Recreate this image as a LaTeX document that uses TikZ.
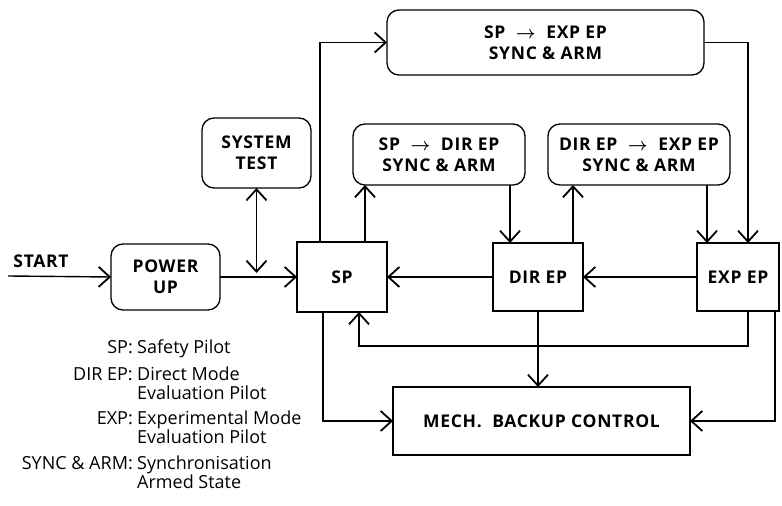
\documentclass[tikz,border=0pt]{standalone}
\usepackage{fontspec}
\setmainfont{Open Sans}
\newfontfamily\boxfont[LetterSpace=4]{Open Sans}
\usepackage{tikz}
\usetikzlibrary{arrows.meta, positioning, calc}

\newcommand{\tofrom}{\ \ {\boldmath$\rightarrow$}\ \ }

\begin{document}
\begin{tikzpicture}[
    x=1pt, y=1pt,
    block/.style={rectangle, draw, line width=2.4pt, inner sep=0pt, outer sep=0pt, align=center, font=\boxfont\fontsize{17.5}{23}\selectfont\bfseries},
    state/.style={rectangle, draw, line width=1.3pt, rounded corners=12pt, inner sep=0pt, outer sep=0pt, align=center, font=\boxfont\fontsize{17.5}{21}\selectfont\bfseries},
    term/.style={anchor=base east, inner sep=0pt, font=\fontsize{18}{19}\selectfont},
    descr/.style={anchor=base west, inner sep=0pt, align=left, font=\fontsize{18}{19}\selectfont},
    line/.style={draw, line width=1.4pt, -{Straight Barb[length=11pt, width=20pt, line width=1.8pt]}},
    both/.style={draw, line width=1.4pt, {Straight Barb[length=11pt, width=20pt, line width=1.8pt]}-{Straight Barb[length=11pt, width=20pt, line width=1.8pt]}}
]
\useasboundingbox (0,0) rectangle (782,506);

% Nodes
\coordinate (in) at (8,230);
\node [inner sep=0pt, font=\boxfont\fontsize{17.5}{19}\selectfont\bfseries] (start) at (41,245) {START};
\node [state, minimum width=109, minimum height=66] (powerup) at (165.5,229) {POWER\\UP};
\node [state, minimum width=109, minimum height=70] (systest) at (256.5,353) {SYSTEM\\TEST};

\node [block, minimum width=90, minimum height=70] (sp) at (342,229) {SP};
\node [block, minimum width=90, minimum height=68] (direp) at (538,229) {DIR EP};
\node [block, minimum width=82, minimum height=68] (expep) at (738,229) {EXP EP};
\node [block, minimum width=297, minimum height=68] (mech) at (541.5,85) {MECH.\ \ BACKUP CONTROL};

\node [state, minimum width=317, minimum height=65] (topsync) at (545.5,463.5) {SP\tofrom EXP EP\\SYNC \& ARM};
\node [state, minimum width=172, minimum height=61] (dirsync) at (439,351.5) {SP\tofrom DIR EP\\SYNC \& ARM};
\node [state, minimum width=182, minimum height=61] (expsync) at (639,351.5) {DIR EP\tofrom EXP EP\\SYNC \& ARM};

% Legend
\node [term] (k1) at (133,152) {SP:};
\node [descr] (d1) at (137,152) {Safety Pilot};
\node [term] (k2) at (133,125) {DIR EP:};
\node [descr] (d2) at (137,106) {Direct Mode\\Evaluation Pilot};
\node [term] (k3) at (133,81) {EXP:};
\node [descr] (d3) at (137,62) {Experimental Mode\\Evaluation Pilot};
\node [term] (k4) at (133,36) {SYNC \& ARM:};
\node [descr] (d4) at (137,17) {Synchronisation\\Armed State};

% Edges
\path [line] (in) -- (powerup.west);
\path [line] (powerup.east) -- (sp.west);
\path [both, shorten >=4pt] (systest.south) -- (systest.south |- powerup.east);

\path [line] ([xshift=-22]sp.north) |- (topsync.west);
\path [line] (topsync.east) -| ([xshift=10]expep.north);
\path [line] ([xshift=23]sp.north) -- ([xshift=23]sp.north |- dirsync.south);
\path [line] ([xshift=-28]direp.north |- dirsync.south) -- ([xshift=-28]direp.north);
\path [line] ([xshift=35]direp.north) -- ([xshift=35]direp.north |- expsync.south);
\path [line] ([xshift=-31]expep.north |- expsync.south) -- ([xshift=-31]expep.north);

\path [line] (direp.west) -- (sp.east);
\path [line] (expep.west) -- (direp.east);

\path [line] ([xshift=10]expep.south) -- ++(0,-35) -| ([xshift=17]sp.south);
\path [line] ([xshift=37]expep.south) |- (mech.east);
\path [line] (direp.south) -- (direp.south |- mech.north);
\path [line] ([xshift=-19]sp.south) |- (mech.west);
\end{tikzpicture}
\end{document}
